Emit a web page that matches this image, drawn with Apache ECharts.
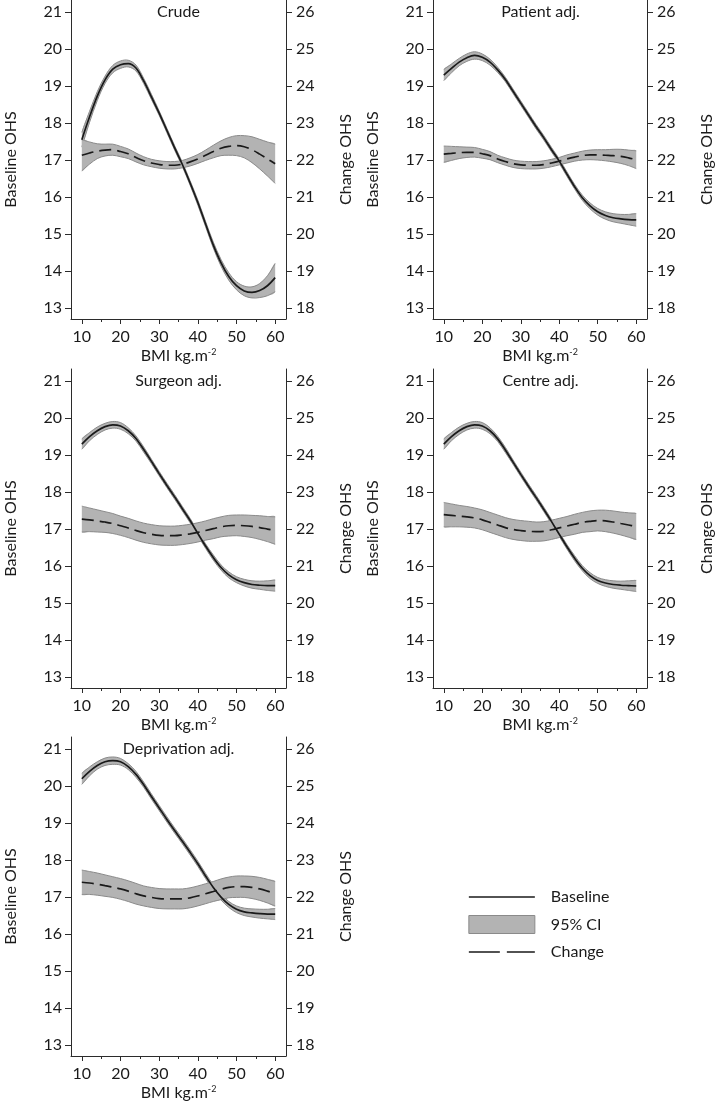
<!DOCTYPE html>
<html>

<head>
    <meta charset="UTF-8">
    <title>Baseline and change OHS by BMI</title>
    <script src="https://cdn.jsdelivr.net/npm/echarts@6/dist/echarts.min.js"></script>
    <style>
        html,
        body {
            margin: 0;
            padding: 0;
            background-color: #ffffff;
        }

        #chart {
            width: 716px;
            height: 1103px;
        }
    </style>
</head>

<body>
    <div id="chart"></div>
</body>
<script>
    // BMI grid the curves are read at
    var bmi = [10, 12, 14, 16, 18, 20, 22, 24, 26, 28, 30, 32, 34, 36, 38, 40, 42, 44, 46, 48, 50, 52, 54, 56, 58, 60];
    var xTicks = [10, 20, 30, 40, 50, 60];
    var xMinorTicks = [15, 25, 35, 45, 55];
    var baselineTicks = [13, 14, 15, 16, 17, 18, 19, 20, 21];
    var changeTicks = [18, 19, 20, 21, 22, 23, 24, 25, 26];
    var panelTitles = ['Crude', 'Patient adj.', 'Surgeon adj.', 'Centre adj.', 'Deprivation adj.'];

    // baseline OHS (left axis) and half width of its 95% CI
    var baseCrude = [17.55, 18.17, 18.73, 19.17, 19.46, 19.58, 19.61, 19.49, 19.14, 18.71, 18.27, 17.8, 17.33, 16.88, 16.38, 15.85, 15.27, 14.7, 14.22, 13.85, 13.6, 13.46, 13.42, 13.47, 13.6, 13.82];
    var baseCiCrude = [0.2, 0.15, 0.12, 0.1, 0.1, 0.1, 0.09, 0.08, 0.07, 0.07, 0.06, 0.06, 0.06, 0.06, 0.06, 0.07, 0.07, 0.08, 0.09, 0.1, 0.11, 0.13, 0.15, 0.19, 0.27, 0.38];
    var basePatient = [19.3, 19.48, 19.65, 19.77, 19.83, 19.78, 19.65, 19.44, 19.18, 18.86, 18.54, 18.22, 17.9, 17.6, 17.28, 16.97, 16.62, 16.28, 15.98, 15.76, 15.6, 15.5, 15.44, 15.41, 15.39, 15.38];
    var baseCiPatient = [0.15, 0.12, 0.1, 0.1, 0.1, 0.09, 0.08, 0.07, 0.06, 0.06, 0.06, 0.06, 0.06, 0.06, 0.06, 0.06, 0.06, 0.06, 0.07, 0.08, 0.09, 0.1, 0.11, 0.12, 0.14, 0.17];
    var baseSurgeon = [19.3, 19.5, 19.66, 19.77, 19.82, 19.79, 19.66, 19.45, 19.15, 18.83, 18.5, 18.18, 17.87, 17.55, 17.23, 16.88, 16.54, 16.23, 15.96, 15.76, 15.63, 15.55, 15.5, 15.48, 15.47, 15.47];
    var baseCiSurgeon = [0.14, 0.11, 0.1, 0.09, 0.09, 0.09, 0.08, 0.07, 0.07, 0.06, 0.06, 0.06, 0.06, 0.06, 0.06, 0.06, 0.06, 0.07, 0.07, 0.08, 0.08, 0.09, 0.1, 0.11, 0.13, 0.15];
    var baseCentre = [19.3, 19.5, 19.66, 19.77, 19.82, 19.79, 19.66, 19.44, 19.14, 18.81, 18.48, 18.16, 17.85, 17.53, 17.2, 16.86, 16.52, 16.21, 15.94, 15.74, 15.61, 15.54, 15.5, 15.48, 15.47, 15.46];
    var baseCiCentre = [0.14, 0.11, 0.1, 0.09, 0.09, 0.09, 0.08, 0.07, 0.07, 0.06, 0.06, 0.06, 0.06, 0.06, 0.06, 0.06, 0.06, 0.07, 0.07, 0.08, 0.08, 0.09, 0.1, 0.11, 0.13, 0.15];
    var baseDepriv = [20.2, 20.4, 20.56, 20.66, 20.69, 20.66, 20.53, 20.32, 20.04, 19.72, 19.41, 19.1, 18.8, 18.51, 18.21, 17.9, 17.57, 17.26, 17.0, 16.8, 16.67, 16.6, 16.57, 16.55, 16.54, 16.54];
    var baseCiDepriv = [0.15, 0.12, 0.1, 0.1, 0.1, 0.09, 0.08, 0.08, 0.07, 0.07, 0.07, 0.07, 0.07, 0.07, 0.07, 0.07, 0.07, 0.07, 0.08, 0.08, 0.09, 0.1, 0.11, 0.12, 0.13, 0.15];

    // change OHS (right axis) and half width of its 95% CI
    var chgCrude = [22.13, 22.19, 22.24, 22.27, 22.28, 22.23, 22.17, 22.07, 21.98, 21.92, 21.88, 21.86, 21.86, 21.89, 21.95, 22.03, 22.13, 22.23, 22.32, 22.37, 22.39, 22.36, 22.28, 22.16, 22.03, 21.9];
    var chgCiCrude = [0.42, 0.3, 0.2, 0.16, 0.15, 0.14, 0.13, 0.12, 0.11, 0.1, 0.1, 0.1, 0.1, 0.1, 0.11, 0.12, 0.14, 0.17, 0.2, 0.24, 0.27, 0.3, 0.35, 0.4, 0.46, 0.53];
    var chgPatient = [22.16, 22.18, 22.2, 22.21, 22.21, 22.17, 22.12, 22.03, 21.96, 21.9, 21.87, 21.86, 21.86, 21.88, 21.92, 21.97, 22.03, 22.08, 22.12, 22.14, 22.14, 22.13, 22.12, 22.1, 22.06, 22.01];
    var chgCiPatient = [0.22, 0.19, 0.16, 0.14, 0.13, 0.12, 0.11, 0.1, 0.1, 0.1, 0.1, 0.1, 0.1, 0.1, 0.1, 0.1, 0.11, 0.11, 0.12, 0.13, 0.14, 0.15, 0.17, 0.19, 0.21, 0.24];
    var chgSurgeon = [22.27, 22.25, 22.22, 22.19, 22.15, 22.09, 22.03, 21.96, 21.9, 21.86, 21.83, 21.82, 21.82, 21.84, 21.87, 21.91, 21.96, 22.01, 22.06, 22.09, 22.1, 22.09, 22.07, 22.04, 22.0, 21.96];
    var chgCiSurgeon = [0.35, 0.32, 0.3, 0.28, 0.27, 0.26, 0.26, 0.26, 0.26, 0.26, 0.26, 0.26, 0.26, 0.26, 0.26, 0.26, 0.26, 0.27, 0.27, 0.28, 0.28, 0.29, 0.3, 0.32, 0.34, 0.37];
    var chgCentre = [22.39, 22.37, 22.35, 22.33, 22.3, 22.25, 22.18, 22.11, 22.04, 21.99, 21.96, 21.94, 21.93, 21.94, 21.98, 22.03, 22.08, 22.13, 22.18, 22.21, 22.23, 22.22, 22.19, 22.15, 22.11, 22.07];
    var chgCiCentre = [0.33, 0.31, 0.29, 0.28, 0.27, 0.27, 0.27, 0.27, 0.27, 0.27, 0.27, 0.27, 0.26, 0.26, 0.26, 0.26, 0.26, 0.27, 0.27, 0.28, 0.28, 0.29, 0.3, 0.31, 0.33, 0.35];
    var chgDepriv = [22.4, 22.38, 22.35, 22.31, 22.27, 22.22, 22.16, 22.09, 22.03, 21.99, 21.96, 21.95, 21.95, 21.95, 21.98, 22.03, 22.09, 22.15, 22.21, 22.26, 22.28, 22.28, 22.26, 22.22, 22.16, 22.09];
    var chgCiDepriv = [0.33, 0.31, 0.3, 0.29, 0.28, 0.28, 0.28, 0.28, 0.27, 0.27, 0.27, 0.27, 0.27, 0.27, 0.27, 0.27, 0.27, 0.27, 0.28, 0.28, 0.29, 0.29, 0.3, 0.31, 0.32, 0.33];

    var panels = [
        { base: baseCrude, baseCi: baseCiCrude, chg: chgCrude, chgCi: chgCiCrude },
        { base: basePatient, baseCi: baseCiPatient, chg: chgPatient, chgCi: chgCiPatient },
        { base: baseSurgeon, baseCi: baseCiSurgeon, chg: chgSurgeon, chgCi: chgCiSurgeon },
        { base: baseCentre, baseCi: baseCiCentre, chg: chgCentre, chgCi: chgCiCentre },
        { base: baseDepriv, baseCi: baseCiDepriv, chg: chgDepriv, chgCi: chgCiDepriv }
    ];

    var font = 'Lato';
    var ink = '#1a1a1a';
    var axisColor = '#2b2b2b';
    var bandFill = '#b3b3b3';
    var bandEdge = '#8a8a8a';
    var smoothness = 0.35;

    var gridPos = [
        { left: 71, top: 0 },
        { left: 433, top: 0 },
        { left: 71, top: 369 },
        { left: 433, top: 369 },
        { left: 71, top: 737 }
    ];
    var gridW = 215,
        gridH = 319;

    function pairs(ys) {
        return bmi.map(function (x, i) { return [x, ys[i]]; });
    }

    // 95% CI band: one polygon between lower and upper bound, plus its two edges
    function bandSeries(mid, hw, xi, yIdx) {
        var lo = mid.map(function (v, i) { return +(v - hw[i]).toFixed(3); });
        var hi = mid.map(function (v, i) { return +(v + hw[i]).toFixed(3); });
        return {
            type: 'custom', name: '95% CI', xAxisIndex: xi, yAxisIndex: yIdx, silent: true,
            data: bmi.map(function (x, i) { return [x, lo[i], hi[i]]; }),
            encode: { x: 0, y: [1, 2] },
            itemStyle: { color: bandFill },
            renderItem: function (params, api) {
                if (params.dataIndex !== 0) {
                    return null;
                }
                var up = [], dn = [];
                for (var k = 0; k < bmi.length; k++) {
                    up.push(api.coord([bmi[k], hi[k]]));
                    dn.push(api.coord([bmi[k], lo[k]]));
                }
                var ring = up.concat(dn.slice().reverse());
                var box = [[Infinity, Infinity], [-Infinity, -Infinity]];
                return {
                    type: 'group',
                    children: [{
                        type: 'polygon',
                        shape: { points: ring, smooth: smoothness, smoothConstraint: box },
                        style: { fill: bandFill, stroke: null }
                    }, {
                        type: 'polyline',
                        shape: { points: up, smooth: smoothness },
                        style: { stroke: bandEdge, lineWidth: 1, fill: null }
                    }, {
                        type: 'polyline',
                        shape: { points: dn, smooth: smoothness },
                        style: { stroke: bandEdge, lineWidth: 1, fill: null }
                    }]
                };
            }
        };
    }

    var grids = [], xAxes = [], yAxes = [], bands = [], lines = [], texts = [];

    panels.forEach(function (p, i) {
        grids.push({ left: gridPos[i].left, top: gridPos[i].top, width: gridW, height: gridH });

        xAxes.push({
            type: 'value', gridIndex: i, min: 7.2, max: 62.8, position: 'bottom',
            name: 'BMI kg.m{s|-2}', nameLocation: 'middle', nameGap: 29,
            nameTextStyle: {
                color: ink, fontFamily: font, fontSize: 16,
                rich: { s: { fontSize: 9, fontFamily: font, color: ink, verticalAlign: 'top' } }
            },
            axisLine: { show: true, onZero: false, lineStyle: { color: axisColor, width: 1 } },
            axisTick: { show: true, length: 5, customValues: xTicks, lineStyle: { color: axisColor } },
            axisLabel: { customValues: xTicks, margin: 10, color: ink, fontFamily: font, fontSize: 16 },
            splitLine: { show: false }
        });
        // minor ticks at 15, 25, ...
        xAxes.push({
            type: 'value', gridIndex: i, min: 7.2, max: 62.8, position: 'bottom',
            axisLine: { show: false },
            axisTick: { show: true, length: 3, customValues: xMinorTicks, lineStyle: { color: axisColor } },
            axisLabel: { show: false },
            splitLine: { show: false }
        });

        yAxes.push({
            type: 'value', gridIndex: i, position: 'left', min: 12.7, max: 21.33,
            name: 'Baseline OHS', nameLocation: 'middle', nameRotate: 90, nameGap: 52,
            nameTextStyle: { color: ink, fontFamily: font, fontSize: 16 },
            axisLine: { show: true, onZero: false, lineStyle: { color: axisColor, width: 1 } },
            axisTick: { show: true, length: 6, customValues: baselineTicks, lineStyle: { color: axisColor } },
            axisLabel: { customValues: baselineTicks, margin: 9, color: ink, fontFamily: font, fontSize: 16 },
            splitLine: { show: false }
        });
        yAxes.push({
            type: 'value', gridIndex: i, position: 'right', min: 17.7, max: 26.33,
            name: 'Change OHS', nameLocation: 'middle', nameRotate: 90, nameGap: 52,
            nameTextStyle: { color: ink, fontFamily: font, fontSize: 16 },
            axisLine: { show: true, onZero: false, lineStyle: { color: axisColor, width: 1 } },
            axisTick: { show: true, length: 6, customValues: changeTicks, lineStyle: { color: axisColor } },
            axisLabel: { customValues: changeTicks, margin: 10, color: ink, fontFamily: font, fontSize: 16 },
            splitLine: { show: false }
        });

        var xi = 2 * i, yl = 2 * i, yr = 2 * i + 1;

        bands.push(bandSeries(p.base, p.baseCi, xi, yl));
        bands.push(bandSeries(p.chg, p.chgCi, xi, yr));

        lines.push({
            type: 'line', name: 'Baseline', xAxisIndex: xi, yAxisIndex: yl,
            data: pairs(p.base), smooth: smoothness, symbol: 'none', silent: true,
            lineStyle: { color: ink, width: 1.7 }, itemStyle: { color: ink }
        });
        lines.push({
            type: 'line', name: 'Change', xAxisIndex: xi, yAxisIndex: yr,
            data: pairs(p.chg), smooth: smoothness, symbol: 'none', silent: true,
            lineStyle: { color: ink, width: 1.7, type: [12, 6] }, itemStyle: { color: ink }
        });

        texts.push({
            type: 'text', x: gridPos[i].left + gridW / 2, y: gridPos[i].top + 12,
            style: {
                text: panelTitles[i], fill: ink, font: '16px ' + font,
                textAlign: 'center', textVerticalAlign: 'middle'
            }
        });
    });

    var chart = echarts.init(document.getElementById('chart'));
    var option = {
        animation: false,
        backgroundColor: '#ffffff',
        grid: grids,
        xAxis: xAxes,
        yAxis: yAxes,
        graphic: texts,
        legend: {
            orient: 'vertical', left: 463, top: 884,
            itemWidth: 66, itemHeight: 18, itemGap: 10,
            selectedMode: false,
            textStyle: { color: ink, fontFamily: font, fontSize: 16, padding: [0, 0, 0, 11] },
            data: [
                { name: 'Baseline', itemStyle: { opacity: 0 }, lineStyle: { color: ink, width: 1.7, type: 'solid' } },
                { name: '95% CI', icon: 'rect', itemStyle: { color: bandFill, borderColor: bandEdge, borderWidth: 1 } },
                { name: 'Change', itemStyle: { opacity: 0 }, lineStyle: { color: ink, width: 1.7, type: [31, 7] } }
            ]
        },
        series: bands.concat(lines)
    };
    chart.setOption(option);
</script>

</html>
